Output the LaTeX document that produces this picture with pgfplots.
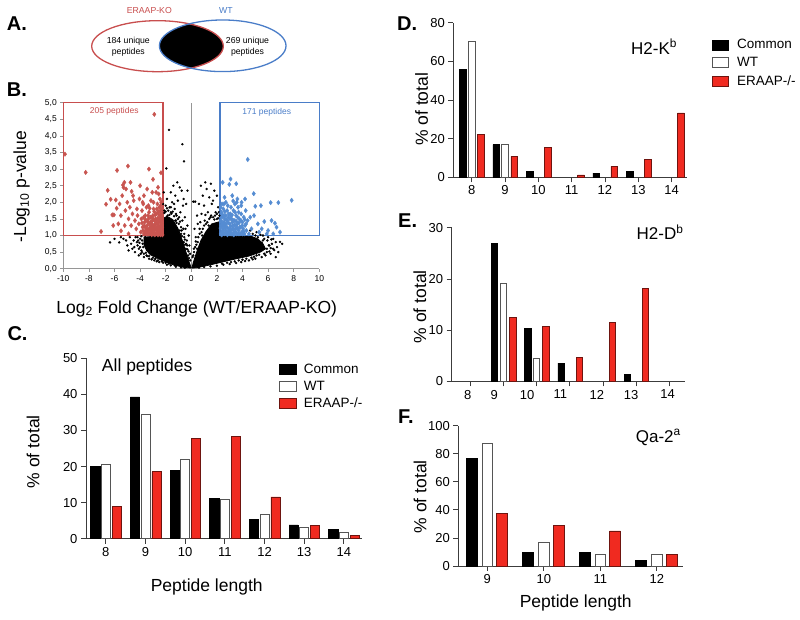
\documentclass[border=0pt]{standalone}
\usepackage{pgfplots}
\pgfplotsset{compat=1.18}
\usepackage{fontspec}
\setmainfont{Liberation Sans}

\definecolor{axgray}{RGB}{60,60,60}
\definecolor{volgray}{RGB}{150,150,150}
\definecolor{barred}{RGB}{240,42,32}
\definecolor{barredline}{RGB}{110,20,15}
\definecolor{wtline}{RGB}{85,85,85}
\definecolor{kored}{RGB}{200,78,78}
\definecolor{wtblue}{RGB}{74,125,200}
\definecolor{ptred}{RGB}{200,85,80}
\definecolor{ptblue}{RGB}{85,140,210}

\newcommand{\fs}[1]{\fontsize{#1}{#1}\selectfont}

\pgfplotsset{
  barax/.style={
    scale only axis, anchor=south west, clip=false,
    axis lines*=left,
    axis line style={draw=axgray,line width=0.8pt},
    tick style={draw=axgray,line width=0.8pt},
    tick align=outside, major tick length=5pt,
    ymin=0, xtick={8,...,14},
    tick label style={font=\fs{13}},
    label style={font=\fs{17.5}},
    /pgf/number format/assume math mode=true,
    legend cell align=left,
  },
  cbar/.style={ybar,fill=black,draw=black,line width=0.6pt,forget plot},
  wbar/.style={ybar,fill=white,draw=wtline,line width=0.7pt,forget plot},
  rbar/.style={ybar,fill=barred,draw=barredline,line width=0.6pt,forget plot},
  keyleg/.style={legend style={draw=none,fill=none,inner sep=0pt,
    font=\fs{13.5},nodes={inner sep=1pt}}},
}

\begin{document}
\begin{tikzpicture}
\path[use as bounding box] (0pt,0pt) rectangle (800pt,620pt);

% ---- A: Venn
\begin{axis}[at={(0pt,540pt)},anchor=south west,scale only axis,
  width=400pt,height=80pt,xmin=0,xmax=400,ymin=540,ymax=620,hide axis,clip=false]
\begin{scope}
  \clip (axis cs:157.5,573.8) ellipse [x radius=65.8,y radius=25.5];
  \fill[black] (axis cs:222.7,574.2) ellipse [x radius=63.3,y radius=25.8];
\end{scope}
\draw[kored,line width=1.3pt] (axis cs:157.5,573.8) ellipse [x radius=65.8,y radius=25.5];
\draw[wtblue,line width=1.3pt] (axis cs:222.7,574.2) ellipse [x radius=63.3,y radius=25.8];
\node[kored,font=\fs{8.7}] at (axis cs:149.3,609) {ERAAP-KO};
\node[wtblue,font=\fs{8.7}] at (axis cs:226,609) {WT};
\node[align=center,font=\fontsize{8.7}{11}\selectfont] at (axis cs:128.3,573.3) {184 unique\\peptides};
\node[align=center,font=\fontsize{8.7}{11}\selectfont] at (axis cs:247.5,573.3) {269 unique\\peptides};
\end{axis}

% ---- B: volcano
\begin{axis}[at={(63.3pt,351.3pt)},anchor=south west,scale only axis,
  width=256pt,height=166pt,
  xmin=-10,xmax=10,ymin=0,ymax=5,
  axis x line*=bottom,axis y line*=left,
  axis line style={draw=volgray,line width=0.6pt},
  tick style={draw=volgray,line width=0.6pt},
  tick align=outside,major tick length=3pt,
  xtick={-10,-8,-6,-4,-2,0,2,4,6,8,10},
  ytick={0,0.5,1,1.5,2,2.5,3,3.5,4,4.5,5},
  tick label style={font=\fs{8.5}},
  yticklabel style={/pgf/number format/.cd,fixed,fixed zerofill,precision=1,use comma},
  /pgf/number format/assume math mode=true,
  clip=false,
  xlabel={Log\textsubscript{2} Fold Change (WT/ERAAP-KO)},
  ylabel={-Log\textsubscript{10} p-value},
  label style={font=\fs{17.5}},
  xlabel style={at={(axis description cs:0.521,-0.24)},anchor=center},
  ylabel style={at={(axis description cs:-0.1625,0.494)},anchor=center},
]
\addplot[volgray,line width=0.6pt] coordinates {(0,0) (0,5)};
% dense core of the cloud
\addplot[fill=black,draw=black,line width=0.8pt] coordinates {
 (0,0.02) (-0.6,0.04) (-1.5,0.13) (-2.4,0.27) (-3.2,0.42) (-3.5,0.55) (-3.7,0.72)
 (-3.7,0.95) (-2.25,1.0) (-2.25,1.5) (-1.9,1.58) (-1.45,1.48) (-1.05,1.22)
 (-0.7,0.85) (-0.4,0.48) (-0.15,0.18) (0,0.02)};
\addplot[fill=black,draw=black,line width=0.8pt] coordinates {
 (0.05,0.02) (0.15,0.18) (0.4,0.48) (0.75,0.85) (1.15,1.12) (1.6,1.35) (2.25,1.42)
 (2.25,1.0) (4.5,1.0) (5.2,0.9) (5.6,0.75) (5.8,0.6) (5.4,0.5) (4.5,0.38)
 (3.3,0.28) (2.2,0.18) (1.2,0.09) (0.4,0.03) (0.05,0.02)};
\addplot[only marks,mark=*,mark size=1.0pt,black] coordinates {
 (-1.74,4.18) (-0.7,3.75) (-0.57,3.23) (-1.95,3.02) (-1.4,2.5) (-1.1,2.6) (-0.9,2.45)
 (-1.6,2.3) (-1.25,2.2) (-0.75,2.35) (-1.9,2.1) (-1.5,2.0) (-1.05,2.05) (-0.6,2.1)
 (-0.4,1.95) (-2.0,1.9) (-1.7,1.85) (-1.3,1.8) (-0.85,1.7) (-0.5,1.55) (-0.3,1.3)
 (-0.2,1.0) (-0.45,1.2) (-0.7,1.45) (-1.15,1.6) (-0.15,0.7) (-0.35,0.85) (-0.55,1.05)
 (-0.8,1.25) (-0.95,1.55) (-1.2,1.45) (0.3,2.02) (-0.1,0.45) (-2.1,1.75) (-1.85,1.6)
 (-1.6,1.7) (-1.35,1.95) (-0.65,1.9) (-2.15,2.3) (-0.3,2.35)
 (-2.1,1.68) (-2.0,1.72) (-1.8,1.75) (-1.7,1.62) (-1.55,1.66) (-1.35,1.58) (-1.25,1.45)
 (-1.15,1.38) (-0.98,1.35) (-0.9,1.15) (-0.8,1.05) (-0.72,0.98) (-0.6,0.8) (-0.5,0.72)
 (-0.42,0.6) (-0.3,0.58) (-0.25,0.4) (-0.18,0.32) (-0.08,0.25) (-1.45,1.72) (-1.05,1.5)
 (-0.75,1.15) (-0.55,0.95) (-0.4,0.75) (-1.9,1.82) (-2.2,1.95) (-1.6,1.85) (-1.2,1.65)
 (-0.88,1.42) (-0.62,1.2) (-0.5,0.88) (-0.32,0.7) (-0.22,0.52)
 (-6.35,0.79) (-5.63,0.79) (-5.3,0.9) (-5.0,0.7) (-4.8,0.95) (-4.6,0.6) (-4.5,0.85)
 (-4.4,0.5) (-4.35,0.95) (-4.1,0.4) (-4.0,0.9) (-3.9,0.55) (-3.7,0.35) (-3.6,0.95)
 (-3.5,0.4) (-3.3,0.3) (-3.1,0.28) (-2.9,0.25) (-2.7,0.22) (-2.5,0.2) (-2.2,0.18)
 (-1.9,0.12) (-1.6,0.1) (-1.2,0.06) (-0.8,0.04) (-0.5,0.03) (-4.9,0.55) (-5.1,0.85)
 (-4.7,0.75) (-4.2,0.7) (-5.5,0.95) (-6.0,0.9) (-4.45,0.65) (-4.15,0.85) (-3.95,0.45)
 (-4.05,0.78) (-4.1,0.6) (-3.85,0.5) (-3.7,0.45) (-3.45,0.38) (-3.3,0.38) (-3.0,0.33)
 (-2.8,0.3) (-2.6,0.25) (-2.3,0.22) (-2.0,0.18) (-1.75,0.15) (-1.3,0.1) (-4.2,0.95)
 (-4.25,0.8) (-4.0,0.65) (-3.75,0.65) (-3.55,0.48) (-3.85,0.85) (-3.8,0.75) (-3.9,0.98)
 (1.09,2.6) (1.53,2.56) (1.2,2.4) (1.8,2.35) (0.9,2.2) (1.4,2.15) (2.0,2.2) (0.6,1.95)
 (1.0,1.9) (1.6,1.95) (2.1,1.85) (0.45,1.6) (0.8,1.65) (1.3,1.7) (1.9,1.7) (0.16,2.02)
 (0.25,1.2) (0.5,1.35) (0.35,0.95) (0.2,0.6) (0.65,1.2) (1.05,1.45) (1.5,1.55) (2.2,1.6)
 (0.75,2.5) (1.7,2.05) (2.0,1.5) (0.1,0.35)
 (0.15,0.4) (0.22,0.5) (0.3,0.65) (0.4,0.72) (0.5,0.8) (0.55,0.95) (0.65,1.05) (0.8,1.1)
 (0.9,1.2) (1.0,1.3) (1.15,1.35) (1.25,1.4) (1.4,1.5) (1.55,1.6) (1.7,1.55) (1.85,1.6)
 (2.0,1.65) (2.15,1.7) (0.45,0.6) (0.85,1.0) (1.35,1.3) (1.8,1.48) (1.1,1.62) (0.7,1.4)
 (2.1,1.52) (0.35,0.82)
 (6.48,0.56) (6.93,0.81) (7.1,0.75) (6.7,0.65) (6.4,0.9) (6.2,0.45) (6.0,0.95) (5.8,0.4)
 (5.6,0.85) (5.5,0.35) (5.2,0.95) (5.0,0.3) (4.8,0.28) (4.5,0.25) (4.2,0.23) (3.9,0.2)
 (3.5,0.17) (3.0,0.14) (2.5,0.12) (2.0,0.09) (1.5,0.07) (1.0,0.05) (0.6,0.03) (6.6,0.35)
 (6.1,0.7) (5.9,0.6) (6.3,0.75) (6.8,0.5) (4.8,1.05) (5.1,1.1) (4.6,1.15) (5.6,1.0)
 (5.0,1.0) (5.4,1.02) (5.7,0.9) (5.95,0.85) (6.05,0.7) (6.2,0.62) (6.1,0.52) (5.9,0.5)
 (5.7,0.45) (5.3,0.42) (5.1,0.4) (4.9,0.36) (4.7,0.33) (4.3,0.3) (4.0,0.27) (3.7,0.25)
 (3.4,0.22) (3.1,0.2) (2.8,0.18) (2.4,0.15) (5.5,0.78) (6.4,0.6) (6.6,0.8) (6.25,0.88)
};
\addplot[only marks,mark=diamond*,mark size=2.2pt,ptred] coordinates {
 (-9.87,3.45) (-8.25,2.9) (-7.05,1.12) (-6.53,2.36) (-6.66,1.94) (-6.3,2.09) (-6.17,1.62)
 (-6.05,1.62) (-5.83,1.82) (-5.8,2.96) (-5.49,1.14) (-5.23,2.6) (-5.34,2.52) (-5.3,2.45)
 (-4.95,3.09) (-4.66,2.33) (-4.55,2.2) (-3.31,3.0) (-2.89,4.65) (-2.37,2.89) (-2.99,2.69)
 (-2.6,2.45) (-2.75,2.3)
 (-5.9,2.07) (-5.6,1.95) (-5.5,1.6) (-5.15,1.75) (-5.0,2.0) (-4.9,1.5) (-4.8,1.85)
 (-4.7,1.3) (-4.6,1.65) (-4.5,2.05) (-4.4,1.45) (-4.3,1.2) (-4.25,1.8) (-4.2,1.6)
 (-4.1,1.35) (-4.05,2.1) (-5.2,1.3) (-5.7,1.35) (-4.9,1.05) (-6.1,1.3) (-5.4,2.2)
 (-5.1,2.4) (-4.75,2.6)
 (-3.95,1.1) (-3.9,1.5) (-3.85,1.75) (-3.8,1.25) (-3.75,1.95) (-3.7,1.05) (-3.65,1.4)
 (-3.6,1.6) (-3.55,1.15) (-3.5,1.85) (-3.45,1.3) (-3.4,1.05) (-3.35,1.5) (-3.3,1.7)
 (-3.25,1.2) (-3.2,1.4) (-3.15,2.05) (-3.1,1.1) (-3.05,1.55) (-3.0,1.3) (-2.95,1.8)
 (-2.9,1.15) (-2.85,1.45) (-2.8,1.05) (-2.75,1.65) (-2.7,1.25) (-2.65,1.95) (-2.6,1.35)
 (-2.55,1.1) (-2.5,1.5) (-2.45,1.2) (-2.4,1.75) (-2.35,1.05) (-2.3,1.4) (-2.27,1.25)
 (-2.3,1.6) (-2.45,2.1) (-2.6,1.7) (-2.8,1.35) (-3.0,1.05) (-3.2,1.25) (-3.4,1.15)
 (-2.5,1.05) (-2.7,1.15) (-2.9,1.25) (-3.1,1.35) (-2.4,1.3) (-2.6,1.2) (-2.8,1.5)
 (-3.3,1.05) (-3.6,1.25) (-2.35,1.15) (-2.55,1.4) (-2.75,1.05) (-3.0,1.6) (-3.5,1.05)
 (-2.45,1.55) (-2.3,1.1) (-2.65,1.05) (-2.85,1.2) (-3.15,1.15) (-2.5,1.25) (-2.7,1.45)
 (-2.4,1.9) (-2.95,2.0) (-3.35,1.9) (-3.8,2.0) (-3.05,2.3) (-3.45,2.4) (-3.7,2.2)
 (-4.0,2.5) (-2.55,2.25) (-2.35,2.0)
 (-2.28,1.32) (-2.32,1.5) (-2.38,1.22) (-2.42,1.42) (-2.48,1.12) (-2.52,1.62) (-2.58,1.28)
 (-2.62,1.52) (-2.68,1.08) (-2.72,1.38) (-2.78,1.22) (-2.82,1.62) (-2.88,1.32) (-2.92,1.08)
 (-2.98,1.48) (-3.02,1.18) (-3.08,1.42) (-3.12,1.25) (-3.18,1.55) (-3.22,1.08) (-3.28,1.35)
 (-3.32,1.18) (-3.38,1.6) (-3.42,1.42) (-3.48,1.2) (-3.52,1.08) (-3.58,1.48) (-3.62,1.12)
 (-3.68,1.3) (-3.72,1.55) (-3.78,1.15) (-3.85,1.38) (-2.25,1.02) (-2.4,1.02) (-2.6,1.02)
 (-2.85,1.02) (-3.1,1.02) (-2.3,1.8) (-2.5,1.85) (-2.7,1.8) (-2.9,1.72) (-3.25,1.82)
 (-2.35,1.65) (-2.55,1.72)
};
\addplot[only marks,mark=diamond*,mark size=2.2pt,ptblue] coordinates {
 (4.41,3.29) (2.45,2.6) (3.07,2.7) (2.97,2.54) (3.51,2.56) (4.88,2.26) (7.84,2.06)
 (6.2,1.99) (6.8,1.99) (5.44,1.9) (5.0,1.88) (3.27,2.04) (3.93,2.0) (3.6,2.1) (3.2,2.2)
 (2.6,2.15) (2.4,1.95) (4.2,2.1) (5.7,1.42) (6.27,1.45) (6.53,1.37) (6.66,1.25)
 (6.93,1.1) (6.0,1.15) (5.5,1.2) (5.2,1.35) (4.9,1.6) (4.6,1.55) (4.7,1.2) (5.9,1.05)
 (6.4,1.05) (5.3,1.1)
 (2.3,1.05) (2.35,1.3) (2.4,1.55) (2.45,1.15) (2.5,1.8) (2.55,1.4) (2.6,1.05) (2.65,1.25)
 (2.7,1.6) (2.75,1.1) (2.8,1.45) (2.85,1.9) (2.9,1.2) (2.95,1.05) (3.0,1.35) (3.05,1.65)
 (3.1,1.15) (3.15,1.5) (3.2,1.05) (3.25,1.3) (3.3,1.75) (3.35,1.1) (3.4,1.45) (3.45,1.2)
 (3.5,1.6) (3.55,1.05) (3.6,1.35) (3.65,1.85) (3.7,1.15) (3.75,1.5) (3.8,1.05) (3.85,1.25)
 (3.9,1.65) (3.95,1.1) (4.0,1.4) (4.05,1.2) (4.1,1.55) (4.15,1.05) (4.2,1.3) (4.3,1.15)
 (4.4,1.45) (4.5,1.05) (2.35,1.7) (2.5,1.2) (2.7,1.35) (2.9,1.55) (3.1,1.85) (3.3,1.2)
 (3.5,1.3) (3.7,1.7) (2.4,1.1) (2.6,1.5) (2.8,1.1) (3.0,1.2) (3.2,1.4) (3.4,1.95)
 (2.55,1.6) (2.35,1.4) (3.9,1.9) (4.25,1.75) (3.55,2.0) (2.7,2.0) (4.0,1.05) (3.05,1.05)
 (2.45,1.3)
 (2.28,1.22) (2.32,1.45) (2.38,1.02) (2.42,1.62) (2.48,1.35) (2.52,1.08) (2.58,1.28)
 (2.62,1.72) (2.68,1.15) (2.72,1.48) (2.78,1.25) (2.82,1.02) (2.88,1.38) (2.92,1.65)
 (2.98,1.12) (3.02,1.5) (3.08,1.28) (3.12,1.05) (3.18,1.62) (3.22,1.2) (3.28,1.45)
 (3.32,1.02) (3.38,1.32) (3.42,1.7) (3.48,1.1) (3.52,1.42) (3.58,1.22) (3.62,1.55)
 (3.68,1.05) (3.72,1.38) (3.78,1.25) (3.88,1.45) (3.98,1.3) (4.08,1.12) (4.18,1.48)
 (4.28,1.35) (2.3,1.85) (2.55,1.95) (2.8,1.75) (3.1,1.6)
};
\draw[kored,line width=1.3pt] (axis cs:-10,1) rectangle (axis cs:-2.2,5);
\draw[wtblue,line width=1.3pt] (axis cs:2.25,1) rectangle (axis cs:10,5);
\node[kored,font=\fs{8.5}] at (axis cs:-6.02,4.73) {205 peptides};
\node[wtblue,font=\fs{8.5}] at (axis cs:5.89,4.71) {171 peptides};
\end{axis}

% ---- C: all peptides
\begin{axis}[barax,keyleg,at={(86pt,81.3pt)},
  width=275.7pt,height=180.4pt,
  xmin=7.5,xmax=14.45,ymax=50,ytick={0,10,20,30,40,50},
  xlabel={Peptide length},ylabel={\% of total},
  xlabel style={at={(axis description cs:0.4378,-0.2694)},anchor=center},
  ylabel style={at={(axis description cs:-0.1922,0.482)},anchor=center},
  legend style={at={(0.699,0.976)},anchor=north west,row sep=4pt},
]
\addplot[cbar,bar width=0.23,bar shift=-0.265] coordinates {(8,20.0) (9,39.3) (10,19.0) (11,11.1) (12,5.3) (13,3.8) (14,2.5)};
\addplot[wbar,bar width=0.23,bar shift=0] coordinates {(8,20.6) (9,34.4) (10,22.0) (11,11.0) (12,6.8) (13,3.2) (14,1.8)};
\addplot[rbar,bar width=0.23,bar shift=0.278] coordinates {(8,8.9) (9,18.6) (10,27.8) (11,28.4) (12,11.6) (13,3.6) (14,0.9)};
\addlegendimage{legend image code/.code={\draw[fill=black,draw=black,line width=0.6pt] (0pt,-5pt) rectangle (17pt,5pt); \path[draw=none,fill=none] (0pt,0pt) -- (23.5pt,0pt);}}
\addlegendentry{Common}
\addlegendimage{legend image code/.code={\draw[fill=white,draw=wtline,line width=0.7pt] (0pt,-5pt) rectangle (17pt,5pt); \path[draw=none,fill=none] (0pt,0pt) -- (23.5pt,0pt);}}
\addlegendentry{WT}
\addlegendimage{legend image code/.code={\draw[fill=barred,draw=barredline,line width=0.6pt] (0pt,-5pt) rectangle (17pt,5pt); \path[draw=none,fill=none] (0pt,0pt) -- (23.5pt,0pt);}}
\addlegendentry{ERAAP-/-}
\node[font=\fs{17.5}] at (rel axis cs:0.222,0.952) {All peptides};
\end{axis}

% ---- D: H2-Kb
\begin{axis}[barax,keyleg,at={(453.3pt,442.7pt)},
  width=234pt,height=154.6pt,
  xmin=7.45,xmax=14.47,ymax=80,ytick={0,20,40,60,80},
  ylabel={\% of total},
  ylabel style={at={(axis description cs:-0.135,0.44)},anchor=center},
  legend style={at={(1.104,0.899)},anchor=north west,row sep=5pt},
]
\addplot[cbar,bar width=0.2,bar shift=-0.26] coordinates {(8,55.8) (9,16.9) (10,3.2) (12,2.2) (13,3.0)};
\addplot[wbar,bar width=0.2,bar shift=0] coordinates {(8,70.4) (9,16.9)};
\addplot[rbar,bar width=0.2,bar shift=0.28] coordinates {(8,22.2) (9,10.8) (10,15.5) (11,1.2) (12,5.7) (13,9.2) (14,33.3)};
\addlegendimage{legend image code/.code={\draw[fill=black,draw=black,line width=0.6pt] (0pt,-5pt) rectangle (16.6pt,5pt); \path[draw=none,fill=none] (0pt,0pt) -- (24pt,0pt);}}
\addlegendentry{Common}
\addlegendimage{legend image code/.code={\draw[fill=white,draw=wtline,line width=0.7pt] (0pt,-5pt) rectangle (16.6pt,5pt); \path[draw=none,fill=none] (0pt,0pt) -- (24pt,0pt);}}
\addlegendentry{WT}
\addlegendimage{legend image code/.code={\draw[fill=barred,draw=barredline,line width=0.6pt] (0pt,-5pt) rectangle (16.6pt,5pt); \path[draw=none,fill=none] (0pt,0pt) -- (24pt,0pt);}}
\addlegendentry{ERAAP-/-}
\node[font=\fs{17}] at (rel axis cs:0.858,0.845) {H2-K\textsuperscript{b}};
\end{axis}

% ---- E: H2-Db
\begin{axis}[barax,at={(451.7pt,238.5pt)},
  width=233.3pt,height=153.8pt,
  xmin=7.45,xmax=14.47,ymax=30,ytick={0,10,20,30},
  xticklabels={},
  extra x ticks={7.93,8.73,9.72,10.72,11.82,12.85,13.95},
  extra x tick labels={8,9,10,11,12,13,14},
  extra x tick style={tick style={draw=none}},
  ylabel={\% of total},
  ylabel style={at={(axis description cs:-0.136,0.486)},anchor=center},
]
\addplot[cbar,bar width=0.19,bar shift=-0.26] coordinates {(9,27.0) (10,10.4) (11,3.6) (13,1.4)};
\addplot[wbar,bar width=0.19,bar shift=0] coordinates {(9,19.1) (10,4.6)};
\addplot[rbar,bar width=0.19,bar shift=0.285] coordinates {(9,12.5) (10,10.8) (11,4.7) (12,11.5) (13,18.2)};
\node[font=\fs{17}] at (rel axis cs:0.893,0.972) {H2-D\textsuperscript{b}};
\end{axis}

% ---- F: Qa-2a
\begin{axis}[barax,at={(458.3pt,54pt)},
  width=225pt,height=140.3pt,
  xmin=8.486,xmax=12.47,ymax=100,ytick={0,20,40,60,80,100},
  xtick={9,10,11,12},
  xlabel={Peptide length},ylabel={\% of total},
  xlabel style={at={(axis description cs:0.522,-0.262)},anchor=center},
  ylabel style={at={(axis description cs:-0.170,0.494)},anchor=center},
]
\addplot[cbar,bar width=0.19,bar shift=-0.28] coordinates {(9,76.9) (10,9.6) (11,9.6) (12,3.9)};
\addplot[wbar,bar width=0.19,bar shift=0] coordinates {(9,87.5) (10,16.7) (11,8.3) (12,8.3)};
\addplot[rbar,bar width=0.19,bar shift=0.26] coordinates {(9,37.5) (10,29.2) (11,25.0) (12,8.3)};
\node[font=\fs{17}] at (rel axis cs:0.889,0.916) {Qa-2\textsuperscript{a}};
\end{axis}

% ---- panel letters
\node[anchor=west,inner sep=0pt,font=\bfseries\fs{20}] at (6.7pt,596.7pt) {A.};
\node[anchor=west,inner sep=0pt,font=\bfseries\fs{20}] at (6.7pt,530.3pt) {B.};
\node[anchor=west,inner sep=0pt,font=\bfseries\fs{20}] at (7.3pt,286pt) {C.};
\node[anchor=west,inner sep=0pt,font=\bfseries\fs{20}] at (397pt,596pt) {D.};
\node[anchor=west,inner sep=0pt,font=\bfseries\fs{20}] at (398pt,399pt) {E.};
\node[anchor=west,inner sep=0pt,font=\bfseries\fs{20}] at (398pt,203pt) {F.};
\end{tikzpicture}
\end{document}
